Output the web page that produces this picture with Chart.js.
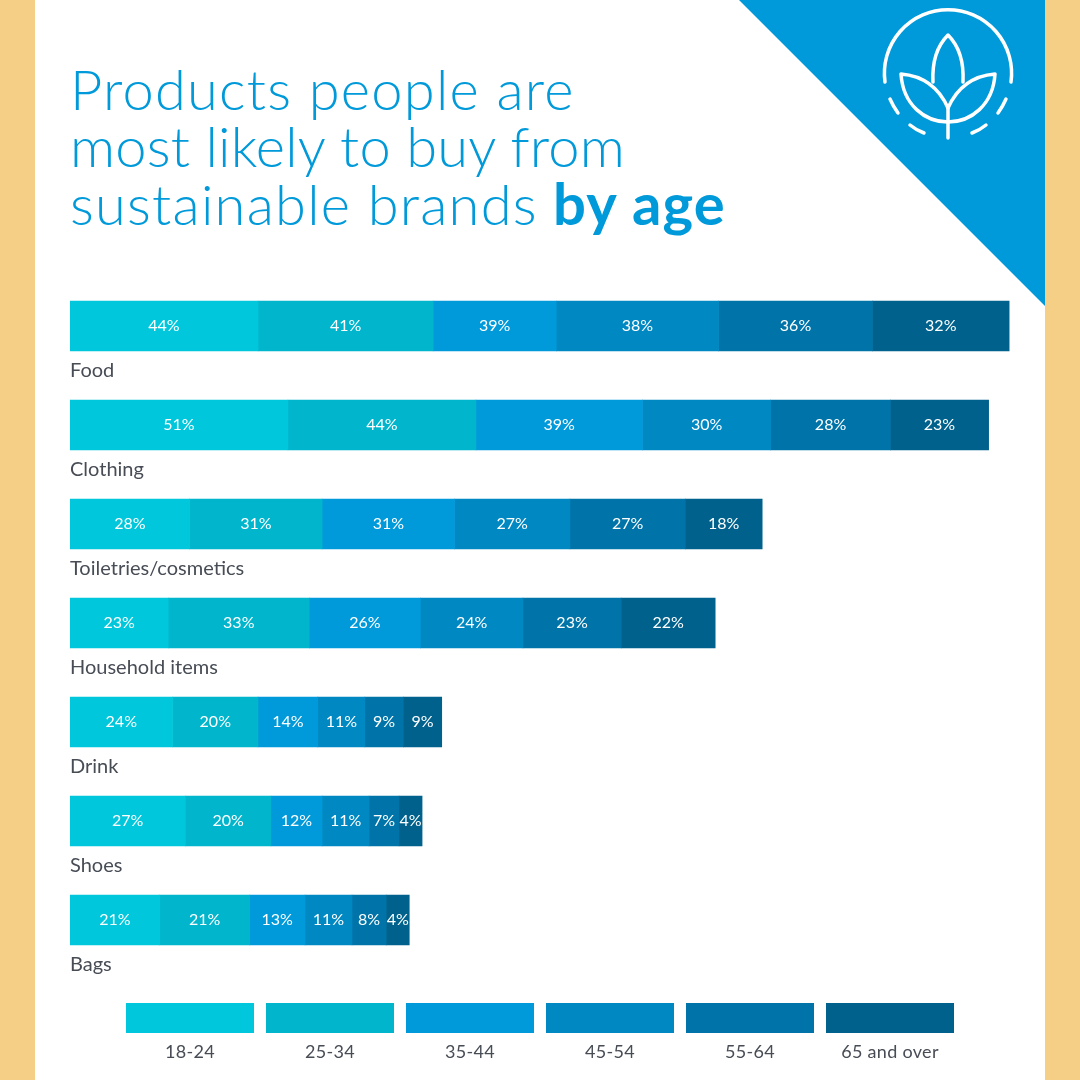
<!DOCTYPE html>
<html lang="en">
<head>
  <meta charset="UTF-8" />
  <title>Products people are most likely to buy from sustainable brands by age</title>
  <script src="https://cdn.jsdelivr.net/npm/chart.js"></script>
  <style>
    html, body { margin: 0; padding: 0; background: #fff; }
    body { width: 1080px; height: 1080px; position: relative; overflow: hidden; font-family: Lato, sans-serif; }
    .side { position: absolute; top: 0; bottom: 0; width: 35px; background: #f5cf85; }
    #logo { position: absolute; left: 0; top: 0; }
    canvas { position: absolute; left: 0; top: 0; }
    h1 {
      position: absolute; left: 70px; top: 60px; margin: 0;
      font-size: 56px; line-height: 57px; font-weight: 300; color: #0099d9;
      white-space: nowrap;
    }
    h1 span { letter-spacing: 1.25px; }
    h1 span.tight { letter-spacing: 0.2px; }
    h1 b { font-weight: 700; font-size: 58px; letter-spacing: 1.2px; }
    .key { position: absolute; top: 1003px; width: 128px; }
    .key i { display: block; height: 30px; }
    .key span { display: block; margin-top: 7px; text-align: center; font-size: 18px; letter-spacing: 0.3px; color: #474c55; }
  </style>
</head>
<body>
  <div class="side" style="left:0"></div>
  <div class="side" style="right:0"></div>
  <svg id="logo" width="1080" height="320" fill="none" stroke="#fff" stroke-width="3.5" stroke-linecap="round" stroke-linejoin="round">
    <polygon points="739,0 1045,0 1045,306" fill="#0099d9" stroke="none" />
    <path d="M885 82 A63.6 63.6 0 1 1 1011 82" />
    <path d="M890 99 Q893 106 898 113 M910 125 Q916 130 924 133 M972 133 Q980 130 986 125 M998 113 Q1003 106 1006 99" />
    <path d="M933 82 C932 62 936 47 948 35 C960 47 964 62 963 82" />
    <path d="M948 108 C940 90 925 76 901 74 C903 105 925 122 948 122" />
    <path d="M948 108 C956 90 971 76 995 74 C993 105 971 122 948 122" />
    <path d="M948 108 V138" />
  </svg>
  <h1><span>Products people are</span><br><span class="tight">most likely to buy from</span><br><span>sustainable brands</span> <b>by age</b></h1>
  <canvas id="chart" width="1080" height="1080"></canvas>
  <div id="keys"></div>

  <script>
    const categories = ["Food", "Clothing", "Toiletries/cosmetics", "Household items", "Drink", "Shoes", "Bags"];
    const ages = ["18-24", "25-34", "35-44", "45-54", "55-64", "65 and over"];
    const colours = ["#00c7db", "#00b5cc", "#0099d9", "#0088c2", "#0074a8", "#00628c"];

    // printed percentages
    const labels1824 = [44, 51, 28, 23, 24, 27, 21];
    const labels2534 = [41, 44, 31, 33, 20, 20, 21];
    const labels3544 = [39, 39, 31, 26, 14, 12, 13];
    const labels4554 = [38, 30, 27, 24, 11, 11, 11];
    const labels5564 = [36, 28, 27, 23, 9, 7, 8];
    const labels65 = [32, 23, 18, 22, 9, 4, 4];

    // bar lengths as drawn in the picture: they follow the labels except
    // Food 35-44 (drawn about 29) and the two 4% pieces (drawn about 5.4)
    const drawn1824 = [44, 51, 28, 23, 24, 27, 21];
    const drawn2534 = [41, 44, 31, 33, 20, 20, 21];
    const drawn3544 = [28.8, 39, 31, 26, 14, 12, 13];
    const drawn4554 = [38, 30, 27, 24, 11, 11, 11];
    const drawn5564 = [36, 28, 27, 23, 9, 7, 8];
    const drawn65 = [32, 23, 18, 22, 9, 5.4, 5.4];

    const printed = [labels1824, labels2534, labels3544, labels4554, labels5564, labels65];
    const drawn = [drawn1824, drawn2534, drawn3544, drawn4554, drawn5564, drawn65];

    const segmentLabels = {
      id: "segmentLabels",
      afterDatasetsDraw(chart) {
        const ctx = chart.ctx;
        ctx.save();
        ctx.font = "16px Lato, sans-serif";
        ctx.fillStyle = "#fff";
        ctx.textAlign = "center";
        ctx.textBaseline = "middle";
        chart.data.datasets.forEach((ds, d) => {
          chart.getDatasetMeta(d).data.forEach((bar, i) => {
            ctx.fillText(printed[d][i] + "%", (bar.x + bar.base) / 2, bar.y);
          });
        });
        ctx.restore();
      }
    };

    new Chart(document.getElementById("chart"), {
      type: "bar",
      data: {
        labels: categories,
        datasets: ages.map((age, d) => ({
          label: age,
          data: drawn[d],
          backgroundColor: colours[d],
          borderWidth: 0,
          barThickness: 50
        }))
      },
      options: {
        indexAxis: "y",
        responsive: false,
        animation: false,
        layout: { padding: { left: 70, right: 70, top: 276.5, bottom: 110.5 } },
        plugins: { legend: { display: false }, tooltip: { enabled: false } },
        scales: {
          x: { stacked: true, min: 0, max: 220, display: false },
          y: {
            stacked: true,
            grid: { display: false, drawTicks: false },
            border: { display: false },
            ticks: {
              mirror: true,
              padding: 0,
              labelOffset: 45,
              color: "#474c55",
              font: { family: "Lato, sans-serif", size: 20 }
            }
          }
        }
      },
      plugins: [segmentLabels]
    });

    // legend under the chart
    const keys = document.getElementById("keys");
    ages.forEach((age, d) => {
      const key = document.createElement("div");
      key.className = "key";
      key.style.left = (126 + d * 140) + "px";
      key.innerHTML = '<i style="background:' + colours[d] + '"></i><span>' + age + "</span>";
      keys.appendChild(key);
    });
  </script>
</body>
</html>
